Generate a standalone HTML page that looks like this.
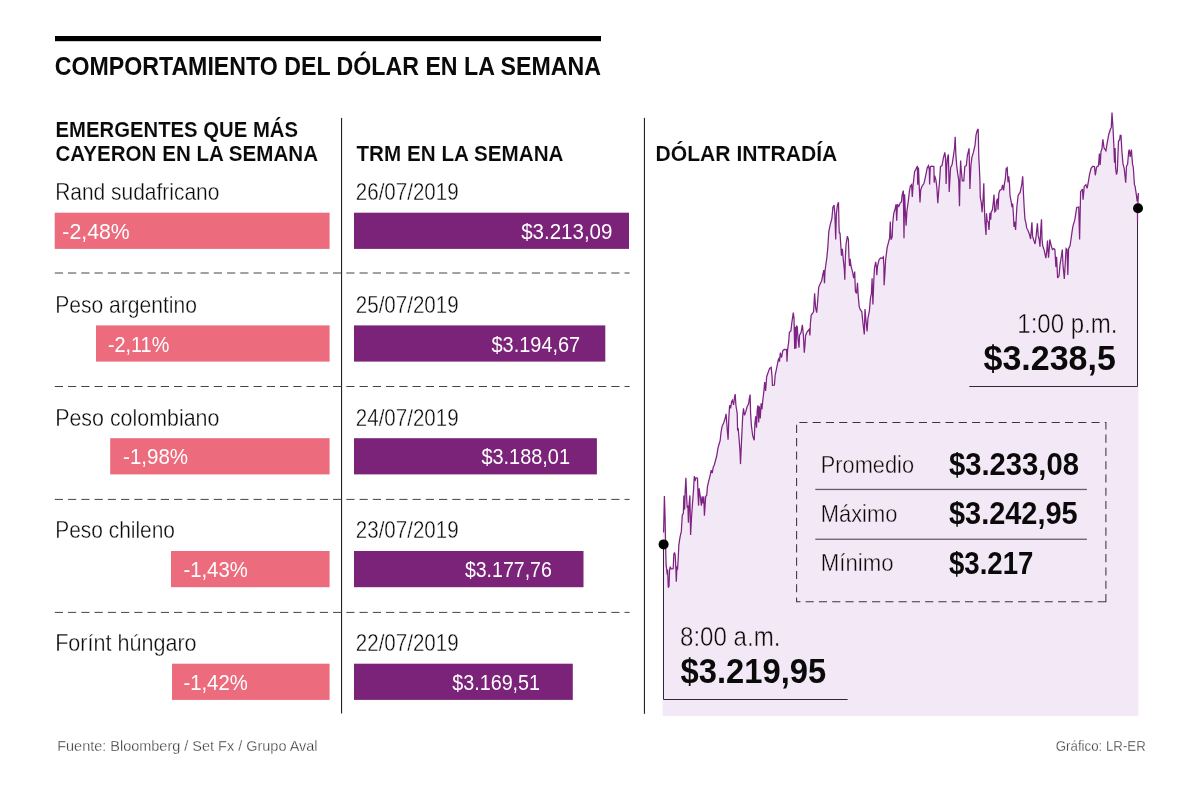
<!DOCTYPE html>
<html lang="es"><head><meta charset="utf-8"><title>Comportamiento del dólar en la semana</title>
<style>html,body{margin:0;padding:0;background:#fff}body{width:1200px;height:789px;overflow:hidden;font-family:"Liberation Sans",sans-serif}svg{display:block;will-change:transform}svg text{font-family:"Liberation Sans",sans-serif}</style></head><body>
<svg width="1200" height="789" viewBox="0 0 1200 789" fill="#0a0a0a">
<rect x="0" y="0" width="1200" height="789" fill="#ffffff"/>
<rect x="55" y="36" width="546" height="5.2" fill="#000"/>
<text x="54.7" y="74.8" font-size="26.1" font-weight="bold" textLength="546.2" lengthAdjust="spacingAndGlyphs">COMPORTAMIENTO DEL DÓLAR EN LA SEMANA</text>
<text x="55.5" y="137.2" font-size="21.3" font-weight="bold" textLength="242.5" lengthAdjust="spacingAndGlyphs" stroke="#fff" stroke-width="0.08">EMERGENTES QUE MÁS</text>
<text x="55.5" y="160.6" font-size="21.3" font-weight="bold" textLength="262.5" lengthAdjust="spacingAndGlyphs" stroke="#fff" stroke-width="0.08">CAYERON EN LA SEMANA</text>
<text x="356.5" y="160.6" font-size="21.3" font-weight="bold" textLength="207" lengthAdjust="spacingAndGlyphs" stroke="#fff" stroke-width="0.08">TRM EN LA SEMANA</text>
<text x="655.5" y="160.5" font-size="21.3" font-weight="bold" textLength="181.8" lengthAdjust="spacingAndGlyphs" stroke="#fff" stroke-width="0.08">DÓLAR INTRADÍA</text>
<rect x="341.0" y="117.9" width="1.1" height="595.6" fill="#222"/>
<rect x="643.9" y="117.9" width="1.1" height="595.9" fill="#222"/>
<text x="55.2" y="200.1" font-size="23.4" textLength="164.2" lengthAdjust="spacingAndGlyphs" stroke="#fff" stroke-width="0.35">Rand sudafricano</text>
<text x="355.8" y="200.1" font-size="23.4" textLength="102.8" lengthAdjust="spacingAndGlyphs" stroke="#fff" stroke-width="0.35">26/07/2019</text>
<rect x="54.7" y="212.7" width="274.9" height="36.2" fill="#ec6b7d"/>
<rect x="354" y="212.7" width="275.0" height="36.2" fill="#7a2378"/>
<text x="62.3" y="238.9" font-size="22.6" fill="#fff" textLength="67.5" lengthAdjust="spacingAndGlyphs">-2,48%</text>
<text x="521.2" y="238.9" font-size="22.6" fill="#fff" textLength="91.2" lengthAdjust="spacingAndGlyphs">$3.213,09</text>
<line x1="54.8" y1="273.0" x2="629.6" y2="273.0" stroke="#444" stroke-width="1" stroke-dasharray="8.2 5.05"/>
<text x="55.2" y="312.8" font-size="23.4" textLength="141.8" lengthAdjust="spacingAndGlyphs" stroke="#fff" stroke-width="0.35">Peso argentino</text>
<text x="355.8" y="312.8" font-size="23.4" textLength="102.8" lengthAdjust="spacingAndGlyphs" stroke="#fff" stroke-width="0.35">25/07/2019</text>
<rect x="96.0" y="325.4" width="233.6" height="36.2" fill="#ec6b7d"/>
<rect x="354" y="325.4" width="251.3" height="36.2" fill="#7a2378"/>
<text x="107.9" y="351.6" font-size="22.6" fill="#fff" textLength="61.4" lengthAdjust="spacingAndGlyphs">-2,11%</text>
<text x="491.5" y="351.6" font-size="22.6" fill="#fff" textLength="88.7" lengthAdjust="spacingAndGlyphs">$3.194,67</text>
<line x1="54.8" y1="386.5" x2="629.6" y2="386.5" stroke="#444" stroke-width="1" stroke-dasharray="8.2 5.05"/>
<text x="55.2" y="425.6" font-size="23.4" textLength="164.2" lengthAdjust="spacingAndGlyphs" stroke="#fff" stroke-width="0.35">Peso colombiano</text>
<text x="355.8" y="425.6" font-size="23.4" textLength="102.8" lengthAdjust="spacingAndGlyphs" stroke="#fff" stroke-width="0.35">24/07/2019</text>
<rect x="110.2" y="438.2" width="219.4" height="36.2" fill="#ec6b7d"/>
<rect x="354" y="438.2" width="242.9" height="36.2" fill="#7a2378"/>
<text x="123.1" y="464.4" font-size="22.6" fill="#fff" textLength="65.0" lengthAdjust="spacingAndGlyphs">-1,98%</text>
<text x="481.4" y="464.4" font-size="22.6" fill="#fff" textLength="88.6" lengthAdjust="spacingAndGlyphs">$3.188,01</text>
<line x1="54.8" y1="499.4" x2="629.6" y2="499.4" stroke="#444" stroke-width="1" stroke-dasharray="8.2 5.05"/>
<text x="55.2" y="538.4" font-size="23.4" textLength="119.8" lengthAdjust="spacingAndGlyphs" stroke="#fff" stroke-width="0.35">Peso chileno</text>
<text x="355.8" y="538.4" font-size="23.4" textLength="102.8" lengthAdjust="spacingAndGlyphs" stroke="#fff" stroke-width="0.35">23/07/2019</text>
<rect x="171.0" y="551.0" width="158.6" height="36.2" fill="#ec6b7d"/>
<rect x="354" y="551.0" width="229.5" height="36.2" fill="#7a2378"/>
<text x="183.4" y="577.2" font-size="22.6" fill="#fff" textLength="64.4" lengthAdjust="spacingAndGlyphs">-1,43%</text>
<text x="464.9" y="577.2" font-size="22.6" fill="#fff" textLength="86.9" lengthAdjust="spacingAndGlyphs">$3.177,76</text>
<line x1="54.8" y1="612.4" x2="629.6" y2="612.4" stroke="#444" stroke-width="1" stroke-dasharray="8.2 5.05"/>
<text x="55.2" y="651.1" font-size="23.4" textLength="141.4" lengthAdjust="spacingAndGlyphs" stroke="#fff" stroke-width="0.35">Forínt húngaro</text>
<text x="355.8" y="651.1" font-size="23.4" textLength="102.8" lengthAdjust="spacingAndGlyphs" stroke="#fff" stroke-width="0.35">22/07/2019</text>
<rect x="172.0" y="663.7" width="157.6" height="36.2" fill="#ec6b7d"/>
<rect x="354" y="663.7" width="218.8" height="36.2" fill="#7a2378"/>
<text x="183.4" y="689.9" font-size="22.6" fill="#fff" textLength="64.4" lengthAdjust="spacingAndGlyphs">-1,42%</text>
<text x="452.2" y="689.9" font-size="22.6" fill="#fff" textLength="87.9" lengthAdjust="spacingAndGlyphs">$3.169,51</text>
<text x="57.2" y="750.7" font-size="14.5" fill="#333" textLength="260.4" lengthAdjust="spacingAndGlyphs" stroke="#fff" stroke-width="0.3">Fuente: Bloomberg / Set Fx / Grupo Aval</text>
<text x="1055.8" y="750.7" font-size="14.5" fill="#333" textLength="90" lengthAdjust="spacingAndGlyphs" stroke="#fff" stroke-width="0.3">Gráfico: LR-ER</text>
<path d="M662.6,715.9 L662.6,532.5 L663.6,532.5 L664.4,495.9 L665.1,517.7 L665.6,545.0 L666.1,564.9 L666.7,569.4 L667.2,574.7 L667.6,569.4 L668.3,587.6 L669.0,586.2 L669.6,569.4 L670.3,566.7 L671.0,568.9 L672.3,568.9 L673.2,568.5 L673.8,554.3 L674.5,552.5 L675.2,555.2 L675.9,569.4 L676.3,581.8 L676.9,567.6 L677.6,568.5 L678.2,558.7 L678.8,545.4 L679.7,539.2 L680.7,533.9 L681.3,531.9 L682.3,514.7 L683.3,513.7 L683.9,495.4 L684.6,509.6 L685.2,490.3 L685.9,477.7 L686.7,498.5 L687.2,507.6 L687.9,505.6 L688.4,522.8 L689.2,503.5 L689.9,495.4 L690.6,535.0 L691.5,517.7 L692.5,503.5 L693.5,490.3 L694.3,476.2 L695.0,481.2 L696.0,477.7 L697.5,478.2 L698.0,494.4 L698.6,505.6 L699.1,488.3 L700.1,495.4 L701.4,505.6 L702.1,496.4 L703.1,503.5 L703.8,496.4 L704.4,515.7 L705.1,505.6 L705.7,496.4 L706.7,495.4 L707.5,486.3 L708.7,481.2 L710.2,475.1 L711.2,470.1 L712.2,473.1 L713.3,467.0 L714.3,465.0 L715.6,460.0 L716.7,456.0 L718.0,447.9 L719.2,443.8 L720.2,440.3 L721.0,432.7 L722.0,426.6 L723.8,422.5 L725.1,418.5 L726.1,413.9 L726.8,423.5 L727.5,432.7 L728.1,439.8 L728.8,418.5 L729.6,405.3 L730.6,408.3 L731.6,401.7 L732.4,400.2 L733.6,404.8 L734.4,398.2 L735.2,394.1 L735.9,405.3 L737.2,413.4 L737.6,430.6 L738.3,429.6 L739.3,441.8 L740.0,450.9 L740.5,464.1 L741.3,445.8 L742.0,430.6 L742.7,416.4 L743.5,408.3 L744.5,415.4 L745.6,412.4 L747.1,406.8 L748.6,403.8 L749.4,398.2 L750.1,394.6 L750.6,413.4 L751.4,425.6 L752.7,435.7 L754.2,440.3 L754.9,423.5 L755.7,416.4 L756.5,427.6 L757.2,410.3 L757.9,405.3 L758.7,422.5 L759.3,406.3 L760.3,418.5 L761.1,403.3 L762.0,409.3 L762.8,400.2 L763.8,392.1 L764.7,382.0 L765.6,391.0 L766.7,376.5 L769.6,368.4 L771.2,367.4 L772.0,376.0 L772.5,385.5 L774.4,385.0 L775.2,375.0 L776.7,367.9 L778.3,359.8 L779.3,357.7 L779.5,361.8 L780.3,352.7 L781.5,357.7 L782.8,350.6 L784.3,349.4 L786.6,349.6 L787.0,361.8 L787.6,349.6 L788.6,342.5 L789.4,332.4 L790.9,330.9 L791.9,322.2 L793.3,312.6 L794.0,318.2 L794.7,349.1 L795.5,326.8 L796.0,348.6 L796.7,326.3 L797.3,326.8 L798.0,338.5 L799.0,347.6 L799.5,335.4 L801.1,332.4 L802.4,324.8 L803.4,335.4 L804.3,352.7 L805.1,343.5 L805.6,335.4 L807.1,331.9 L809.2,329.3 L809.9,335.4 L810.4,323.3 L811.2,315.1 L812.7,313.1 L813.6,311.6 L814.6,293.4 L815.6,307.6 L816.7,312.7 L817.7,300.5 L818.7,287.3 L820.2,283.8 L821.7,280.7 L822.7,275.1 L823.8,270.1 L824.5,283.3 L825.0,271.1 L825.8,265.0 L826.8,257.9 L827.8,247.7 L828.8,231.5 L830.3,224.4 L831.9,218.3 L832.9,207.2 L834.1,205.1 L834.9,215.3 L835.7,239.6 L836.4,213.3 L837.4,205.1 L838.5,202.3 L839.0,225.4 L839.3,233.5 L840.0,232.5 L840.7,243.7 L841.5,255.8 L842.3,248.7 L843.3,259.9 L844.3,269.0 L844.8,279.7 L845.4,255.8 L846.1,243.7 L847.4,236.1 L848.4,239.6 L848.9,255.8 L849.6,266.0 L850.1,258.9 L851.1,266.5 L852.7,272.6 L853.7,278.2 L854.7,271.6 L855.4,291.4 L856.5,293.4 L857.5,282.7 L858.2,295.4 L859.2,306.6 L860.3,309.6 L861.8,311.6 L862.8,321.8 L864.3,334.5 L865.0,309.1 L865.8,318.7 L867.1,331.4 L867.9,318.7 L869.4,310.6 L870.4,298.5 L871.4,293.4 L872.1,278.2 L872.9,304.5 L873.9,278.2 L874.5,268.0 L875.7,261.9 L876.5,268.0 L876.8,275.1 L877.5,266.0 L879.0,259.9 L880.5,257.9 L882.1,258.4 L883.3,256.9 L883.9,266.0 L884.1,285.3 L885.0,272.0 L885.6,260.0 L887.1,247.9 L888.6,241.9 L889.6,237.8 L890.3,221.6 L891.0,239.8 L892.2,236.8 L892.7,223.6 L893.7,213.5 L895.2,208.4 L896.0,204.3 L896.7,220.6 L897.4,204.3 L898.8,206.4 L900.3,202.8 L901.5,201.8 L902.1,195.2 L903.3,190.6 L904.0,238.3 L904.6,194.2 L905.3,210.4 L906.1,225.6 L906.9,211.4 L908.4,200.3 L909.4,191.2 L910.4,186.1 L911.6,184.7 L912.3,197.0 L913.1,185.0 L914.6,171.6 L916.2,168.6 L917.4,166.1 L917.7,184.8 L918.5,167.6 L919.2,185.8 L920.0,202.5 L920.7,189.9 L922.2,185.8 L923.8,183.8 L924.8,179.8 L926.3,172.7 L927.3,167.6 L928.5,165.6 L929.3,169.6 L929.6,184.4 L930.3,166.6 L931.9,166.1 L933.9,166.6 L934.2,182.8 L934.7,175.7 L935.9,179.8 L936.9,187.9 L937.8,203.2 L938.6,192.5 L939.5,181.8 L940.5,166.6 L942.0,165.6 L943.3,158.5 L944.8,152.4 L945.6,158.5 L946.1,183.9 L946.8,165.6 L947.6,157.4 L948.4,154.4 L949.2,192.0 L950.1,175.7 L950.6,167.6 L952.1,164.5 L953.2,157.4 L954.5,148.3 L955.2,136.7 L955.9,155.4 L956.7,165.6 L957.7,173.7 L958.7,179.8 L959.5,206.2 L960.1,175.7 L960.6,160.5 L961.3,170.6 L962.3,180.8 L963.8,180.8 L964.8,166.6 L966.3,165.6 L967.4,155.4 L969.1,148.3 L969.9,188.9 L970.9,165.6 L971.9,157.4 L973.4,152.4 L975.0,145.3 L976.0,135.1 L977.2,130.6 L978.2,128.9 L978.8,157.4 L979.3,166.1 L979.9,180.3 L980.3,197.5 L981.3,202.6 L982.1,212.2 L983.1,198.5 L983.8,183.3 L984.3,204.6 L984.9,220.8 L986.0,235.0 L986.5,213.2 L987.2,220.8 L988.2,221.9 L989.0,230.0 L989.9,212.7 L990.7,219.8 L991.2,212.2 L992.4,209.7 L993.3,202.6 L994.0,194.5 L994.8,211.7 L995.8,210.7 L996.5,201.6 L997.5,198.5 L998.1,209.7 L998.8,193.5 L999.8,190.4 L1001.6,189.4 L1002.6,184.8 L1003.6,190.4 L1004.4,183.8 L1005.4,178.3 L1006.2,168.6 L1007.2,167.6 L1008.0,182.3 L1008.7,176.2 L1009.5,184.3 L1010.0,195.5 L1011.0,200.6 L1012.0,207.1 L1012.7,203.6 L1013.5,216.8 L1014.0,226.9 L1014.8,221.9 L1015.6,230.0 L1016.1,220.8 L1016.8,207.7 L1018.1,195.5 L1020.1,192.4 L1021.8,184.3 L1022.7,176.2 L1023.5,194.5 L1024.2,207.7 L1024.9,218.8 L1025.9,222.9 L1026.7,227.9 L1028.2,231.0 L1029.5,234.5 L1030.6,239.0 L1031.9,222.2 L1032.6,236.4 L1033.9,240.5 L1035.1,244.0 L1036.2,235.4 L1037.4,223.3 L1038.2,235.4 L1039.2,239.5 L1040.0,246.6 L1040.7,230.3 L1041.5,219.2 L1042.0,238.5 L1042.7,245.6 L1044.3,250.6 L1045.8,258.2 L1046.8,250.6 L1047.5,240.5 L1048.5,257.7 L1049.3,248.6 L1049.8,239.5 L1051.2,245.6 L1052.4,249.6 L1053.9,248.6 L1054.9,249.6 L1055.9,266.9 L1056.6,256.7 L1057.6,278.0 L1059.0,276.0 L1060.0,264.8 L1061.0,258.7 L1062.3,249.6 L1063.0,264.8 L1064.3,279.0 L1065.1,265.8 L1066.1,248.6 L1067.1,249.6 L1067.8,275.0 L1068.6,248.6 L1070.1,245.6 L1071.1,238.5 L1072.1,231.4 L1072.9,226.3 L1074.7,220.2 L1075.7,214.1 L1076.7,207.5 L1078.7,207.0 L1079.6,239.5 L1080.3,207.0 L1080.6,191.7 L1082.4,189.0 L1083.1,199.7 L1084.2,186.4 L1085.9,184.6 L1087.1,188.4 L1088.3,182.1 L1089.6,174.1 L1091.1,168.4 L1092.8,166.2 L1094.5,166.7 L1095.3,175.3 L1096.5,167.3 L1098.5,165.6 L1099.4,153.6 L1100.2,165.0 L1101.0,151.3 L1101.9,149.0 L1102.9,139.4 L1104.0,147.9 L1105.9,150.8 L1107.1,143.3 L1108.8,134.2 L1110.5,129.1 L1111.3,127.4 L1112.0,112.5 L1113.1,129.7 L1113.9,146.8 L1114.5,162.7 L1115.1,147.9 L1115.6,168.4 L1116.5,174.7 L1117.3,170.7 L1118.5,141.1 L1119.6,139.9 L1120.2,135.4 L1121.0,135.4 L1121.9,151.3 L1123.0,163.9 L1124.2,168.4 L1125.7,182.7 L1126.5,166.2 L1127.6,164.4 L1128.7,151.3 L1129.3,149.6 L1130.2,157.0 L1131.4,149.6 L1132.5,163.9 L1133.3,167.3 L1134.4,184.4 L1135.1,186.5 L1136.3,194.4 L1137.2,201.5 L1138.4,193.0 L1137.9,204.0 L1137.5,210.0 L1137.5,221.8 L1138.5,221.8 L1138.5,715.9 Z" fill="#f3e8f5"/>
<path d="M663.5,545 V699.5 H847.6" fill="none" stroke="#30283a" stroke-width="1"/>
<path d="M1137.5,209 V386.5 H969.3" fill="none" stroke="#30283a" stroke-width="1"/>
<path d="M663.6,532.5 L664.4,495.9 L665.1,517.7 L665.6,545.0 L666.1,564.9 L666.7,569.4 L667.2,574.7 L667.6,569.4 L668.3,587.6 L669.0,586.2 L669.6,569.4 L670.3,566.7 L671.0,568.9 L672.3,568.9 L673.2,568.5 L673.8,554.3 L674.5,552.5 L675.2,555.2 L675.9,569.4 L676.3,581.8 L676.9,567.6 L677.6,568.5 L678.2,558.7 L678.8,545.4 L679.7,539.2 L680.7,533.9 L681.3,531.9 L682.3,514.7 L683.3,513.7 L683.9,495.4 L684.6,509.6 L685.2,490.3 L685.9,477.7 L686.7,498.5 L687.2,507.6 L687.9,505.6 L688.4,522.8 L689.2,503.5 L689.9,495.4 L690.6,535.0 L691.5,517.7 L692.5,503.5 L693.5,490.3 L694.3,476.2 L695.0,481.2 L696.0,477.7 L697.5,478.2 L698.0,494.4 L698.6,505.6 L699.1,488.3 L700.1,495.4 L701.4,505.6 L702.1,496.4 L703.1,503.5 L703.8,496.4 L704.4,515.7 L705.1,505.6 L705.7,496.4 L706.7,495.4 L707.5,486.3 L708.7,481.2 L710.2,475.1 L711.2,470.1 L712.2,473.1 L713.3,467.0 L714.3,465.0 L715.6,460.0 L716.7,456.0 L718.0,447.9 L719.2,443.8 L720.2,440.3 L721.0,432.7 L722.0,426.6 L723.8,422.5 L725.1,418.5 L726.1,413.9 L726.8,423.5 L727.5,432.7 L728.1,439.8 L728.8,418.5 L729.6,405.3 L730.6,408.3 L731.6,401.7 L732.4,400.2 L733.6,404.8 L734.4,398.2 L735.2,394.1 L735.9,405.3 L737.2,413.4 L737.6,430.6 L738.3,429.6 L739.3,441.8 L740.0,450.9 L740.5,464.1 L741.3,445.8 L742.0,430.6 L742.7,416.4 L743.5,408.3 L744.5,415.4 L745.6,412.4 L747.1,406.8 L748.6,403.8 L749.4,398.2 L750.1,394.6 L750.6,413.4 L751.4,425.6 L752.7,435.7 L754.2,440.3 L754.9,423.5 L755.7,416.4 L756.5,427.6 L757.2,410.3 L757.9,405.3 L758.7,422.5 L759.3,406.3 L760.3,418.5 L761.1,403.3 L762.0,409.3 L762.8,400.2 L763.8,392.1 L764.7,382.0 L765.6,391.0 L766.7,376.5 L769.6,368.4 L771.2,367.4 L772.0,376.0 L772.5,385.5 L774.4,385.0 L775.2,375.0 L776.7,367.9 L778.3,359.8 L779.3,357.7 L779.5,361.8 L780.3,352.7 L781.5,357.7 L782.8,350.6 L784.3,349.4 L786.6,349.6 L787.0,361.8 L787.6,349.6 L788.6,342.5 L789.4,332.4 L790.9,330.9 L791.9,322.2 L793.3,312.6 L794.0,318.2 L794.7,349.1 L795.5,326.8 L796.0,348.6 L796.7,326.3 L797.3,326.8 L798.0,338.5 L799.0,347.6 L799.5,335.4 L801.1,332.4 L802.4,324.8 L803.4,335.4 L804.3,352.7 L805.1,343.5 L805.6,335.4 L807.1,331.9 L809.2,329.3 L809.9,335.4 L810.4,323.3 L811.2,315.1 L812.7,313.1 L813.6,311.6 L814.6,293.4 L815.6,307.6 L816.7,312.7 L817.7,300.5 L818.7,287.3 L820.2,283.8 L821.7,280.7 L822.7,275.1 L823.8,270.1 L824.5,283.3 L825.0,271.1 L825.8,265.0 L826.8,257.9 L827.8,247.7 L828.8,231.5 L830.3,224.4 L831.9,218.3 L832.9,207.2 L834.1,205.1 L834.9,215.3 L835.7,239.6 L836.4,213.3 L837.4,205.1 L838.5,202.3 L839.0,225.4 L839.3,233.5 L840.0,232.5 L840.7,243.7 L841.5,255.8 L842.3,248.7 L843.3,259.9 L844.3,269.0 L844.8,279.7 L845.4,255.8 L846.1,243.7 L847.4,236.1 L848.4,239.6 L848.9,255.8 L849.6,266.0 L850.1,258.9 L851.1,266.5 L852.7,272.6 L853.7,278.2 L854.7,271.6 L855.4,291.4 L856.5,293.4 L857.5,282.7 L858.2,295.4 L859.2,306.6 L860.3,309.6 L861.8,311.6 L862.8,321.8 L864.3,334.5 L865.0,309.1 L865.8,318.7 L867.1,331.4 L867.9,318.7 L869.4,310.6 L870.4,298.5 L871.4,293.4 L872.1,278.2 L872.9,304.5 L873.9,278.2 L874.5,268.0 L875.7,261.9 L876.5,268.0 L876.8,275.1 L877.5,266.0 L879.0,259.9 L880.5,257.9 L882.1,258.4 L883.3,256.9 L883.9,266.0 L884.1,285.3 L885.0,272.0 L885.6,260.0 L887.1,247.9 L888.6,241.9 L889.6,237.8 L890.3,221.6 L891.0,239.8 L892.2,236.8 L892.7,223.6 L893.7,213.5 L895.2,208.4 L896.0,204.3 L896.7,220.6 L897.4,204.3 L898.8,206.4 L900.3,202.8 L901.5,201.8 L902.1,195.2 L903.3,190.6 L904.0,238.3 L904.6,194.2 L905.3,210.4 L906.1,225.6 L906.9,211.4 L908.4,200.3 L909.4,191.2 L910.4,186.1 L911.6,184.7 L912.3,197.0 L913.1,185.0 L914.6,171.6 L916.2,168.6 L917.4,166.1 L917.7,184.8 L918.5,167.6 L919.2,185.8 L920.0,202.5 L920.7,189.9 L922.2,185.8 L923.8,183.8 L924.8,179.8 L926.3,172.7 L927.3,167.6 L928.5,165.6 L929.3,169.6 L929.6,184.4 L930.3,166.6 L931.9,166.1 L933.9,166.6 L934.2,182.8 L934.7,175.7 L935.9,179.8 L936.9,187.9 L937.8,203.2 L938.6,192.5 L939.5,181.8 L940.5,166.6 L942.0,165.6 L943.3,158.5 L944.8,152.4 L945.6,158.5 L946.1,183.9 L946.8,165.6 L947.6,157.4 L948.4,154.4 L949.2,192.0 L950.1,175.7 L950.6,167.6 L952.1,164.5 L953.2,157.4 L954.5,148.3 L955.2,136.7 L955.9,155.4 L956.7,165.6 L957.7,173.7 L958.7,179.8 L959.5,206.2 L960.1,175.7 L960.6,160.5 L961.3,170.6 L962.3,180.8 L963.8,180.8 L964.8,166.6 L966.3,165.6 L967.4,155.4 L969.1,148.3 L969.9,188.9 L970.9,165.6 L971.9,157.4 L973.4,152.4 L975.0,145.3 L976.0,135.1 L977.2,130.6 L978.2,128.9 L978.8,157.4 L979.3,166.1 L979.9,180.3 L980.3,197.5 L981.3,202.6 L982.1,212.2 L983.1,198.5 L983.8,183.3 L984.3,204.6 L984.9,220.8 L986.0,235.0 L986.5,213.2 L987.2,220.8 L988.2,221.9 L989.0,230.0 L989.9,212.7 L990.7,219.8 L991.2,212.2 L992.4,209.7 L993.3,202.6 L994.0,194.5 L994.8,211.7 L995.8,210.7 L996.5,201.6 L997.5,198.5 L998.1,209.7 L998.8,193.5 L999.8,190.4 L1001.6,189.4 L1002.6,184.8 L1003.6,190.4 L1004.4,183.8 L1005.4,178.3 L1006.2,168.6 L1007.2,167.6 L1008.0,182.3 L1008.7,176.2 L1009.5,184.3 L1010.0,195.5 L1011.0,200.6 L1012.0,207.1 L1012.7,203.6 L1013.5,216.8 L1014.0,226.9 L1014.8,221.9 L1015.6,230.0 L1016.1,220.8 L1016.8,207.7 L1018.1,195.5 L1020.1,192.4 L1021.8,184.3 L1022.7,176.2 L1023.5,194.5 L1024.2,207.7 L1024.9,218.8 L1025.9,222.9 L1026.7,227.9 L1028.2,231.0 L1029.5,234.5 L1030.6,239.0 L1031.9,222.2 L1032.6,236.4 L1033.9,240.5 L1035.1,244.0 L1036.2,235.4 L1037.4,223.3 L1038.2,235.4 L1039.2,239.5 L1040.0,246.6 L1040.7,230.3 L1041.5,219.2 L1042.0,238.5 L1042.7,245.6 L1044.3,250.6 L1045.8,258.2 L1046.8,250.6 L1047.5,240.5 L1048.5,257.7 L1049.3,248.6 L1049.8,239.5 L1051.2,245.6 L1052.4,249.6 L1053.9,248.6 L1054.9,249.6 L1055.9,266.9 L1056.6,256.7 L1057.6,278.0 L1059.0,276.0 L1060.0,264.8 L1061.0,258.7 L1062.3,249.6 L1063.0,264.8 L1064.3,279.0 L1065.1,265.8 L1066.1,248.6 L1067.1,249.6 L1067.8,275.0 L1068.6,248.6 L1070.1,245.6 L1071.1,238.5 L1072.1,231.4 L1072.9,226.3 L1074.7,220.2 L1075.7,214.1 L1076.7,207.5 L1078.7,207.0 L1079.6,239.5 L1080.3,207.0 L1080.6,191.7 L1082.4,189.0 L1083.1,199.7 L1084.2,186.4 L1085.9,184.6 L1087.1,188.4 L1088.3,182.1 L1089.6,174.1 L1091.1,168.4 L1092.8,166.2 L1094.5,166.7 L1095.3,175.3 L1096.5,167.3 L1098.5,165.6 L1099.4,153.6 L1100.2,165.0 L1101.0,151.3 L1101.9,149.0 L1102.9,139.4 L1104.0,147.9 L1105.9,150.8 L1107.1,143.3 L1108.8,134.2 L1110.5,129.1 L1111.3,127.4 L1112.0,112.5 L1113.1,129.7 L1113.9,146.8 L1114.5,162.7 L1115.1,147.9 L1115.6,168.4 L1116.5,174.7 L1117.3,170.7 L1118.5,141.1 L1119.6,139.9 L1120.2,135.4 L1121.0,135.4 L1121.9,151.3 L1123.0,163.9 L1124.2,168.4 L1125.7,182.7 L1126.5,166.2 L1127.6,164.4 L1128.7,151.3 L1129.3,149.6 L1130.2,157.0 L1131.4,149.6 L1132.5,163.9 L1133.3,167.3 L1134.4,184.4 L1135.1,186.5 L1136.3,194.4 L1137.2,201.5 L1138.4,193.0 L1137.9,204.0 L1137.5,210.0 L1137.5,221.8" fill="none" stroke="#7d2383" stroke-width="1.25" stroke-linejoin="miter" stroke-miterlimit="3" stroke-linecap="butt"/>
<circle cx="663.6" cy="544.4" r="5" fill="#000"/>
<circle cx="1138" cy="208.2" r="5" fill="#000"/>
<text x="1017.3" y="332.5" font-size="27.3" textLength="100.2" lengthAdjust="spacingAndGlyphs" stroke="#f3e8f5" stroke-width="0.45">1:00 p.m.</text>
<text x="983.6" y="370.3" font-size="34.3" font-weight="bold" textLength="132.2" lengthAdjust="spacingAndGlyphs">$3.238,5</text>
<text x="680.0" y="646.2" font-size="27.3" textLength="100.4" lengthAdjust="spacingAndGlyphs" stroke="#f3e8f5" stroke-width="0.45">8:00 a.m.</text>
<text x="680.6" y="683.2" font-size="34.6" font-weight="bold" textLength="145.6" lengthAdjust="spacingAndGlyphs">$3.219,95</text>
<path d="M1105.9,601.7 H796.6 V422.4 H1105.9 Z" fill="none" stroke="#3a3340" stroke-width="1.05" stroke-dasharray="8.1 5.18"/>
<text x="820.8" y="472.7" font-size="24.6" textLength="93.2" lengthAdjust="spacingAndGlyphs" stroke="#f3e8f5" stroke-width="0.4">Promedio</text>
<text x="949.0" y="474.6" font-size="30.6" font-weight="bold" textLength="130" lengthAdjust="spacingAndGlyphs">$3.233,08</text>
<rect x="815.3" y="488.8" width="271.6" height="1.3" fill="#675d6e"/>
<text x="820.8" y="521.9" font-size="24.6" textLength="76.5" lengthAdjust="spacingAndGlyphs" stroke="#f3e8f5" stroke-width="0.4">Máximo</text>
<text x="949.0" y="524.0" font-size="30.6" font-weight="bold" textLength="128.6" lengthAdjust="spacingAndGlyphs">$3.242,95</text>
<rect x="815.3" y="538.6" width="271.6" height="1.3" fill="#675d6e"/>
<text x="820.8" y="571.2" font-size="24.6" textLength="72.8" lengthAdjust="spacingAndGlyphs" stroke="#f3e8f5" stroke-width="0.4">Mínimo</text>
<text x="949.0" y="573.6" font-size="30.6" font-weight="bold" textLength="84.4" lengthAdjust="spacingAndGlyphs">$3.217</text>
</svg></body></html>
